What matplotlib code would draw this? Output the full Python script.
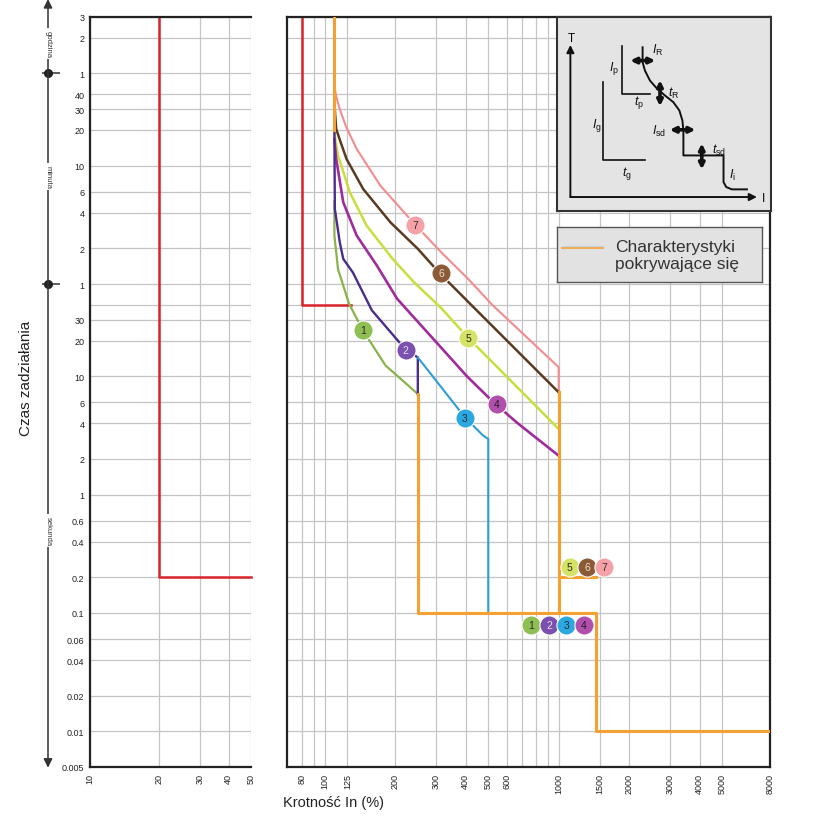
import matplotlib
matplotlib.use('Agg')
import matplotlib.pyplot as plt
import matplotlib.transforms as mtransforms

plt.rcParams['font.family'] = ['Liberation Sans', 'DejaVu Sans']
plt.rcParams['mathtext.fontset'] = 'custom'
plt.rcParams['mathtext.rm'] = 'Liberation Sans'
plt.rcParams['mathtext.it'] = 'Liberation Sans:italic'

W, H = 823, 837

# time axis, seconds
t_ticks = [0.005, 0.01, 0.02, 0.04, 0.06, 0.1, 0.2, 0.4, 0.6, 1, 2, 4, 6, 10, 20, 30, 40,
           60, 120, 240, 360, 600, 1200, 1800, 2400, 3600, 7200, 10800]
t_labels = ['0.005', '0.01', '0.02', '0.04', '0.06', '0.1', '0.2', '0.4', '0.6', '1', '2', '4', '6',
            '10', '20', '30', '', '1', '2', '4', '6', '10', '20', '30', '40', '1', '2', '3']
t_min, t_max = 0.005, 10800

left_xticks = [10, 20, 30, 40, 50]
right_xticks = [80, 90, 100, 125, 200, 300, 400, 500, 600, 700, 800, 900, 1000,
                1500, 2000, 3000, 4000, 5000, 8000]
right_xlabels = ['80', '', '100', '125', '200', '300', '400', '500', '600', '', '', '', '1000',
                 '1500', '2000', '3000', '4000', '5000', '8000']

# red curve (left and right panel)
red_left_I = [20, 20, 50]
red_left_t = [10800, 0.2, 0.2]
red_right_I = [80, 80, 130]
red_right_t = [10800, 40, 40]

# curves 1..7 (I in % In, t in s)
c7_I = [110, 112, 116, 123, 137, 173, 242, 315, 411, 520, 1000, 1000]
c7_t = [2800, 2300, 1800, 1300, 829, 406, 193, 111, 66, 40, 11.9, 7.3]
c6_I = [110, 112, 117, 124, 146, 191, 250, 310, 426, 1000]
c6_t = [2000, 1223, 944, 682, 381, 199, 119, 74, 39.4, 7.3]
c5_I = [110, 111, 114, 119, 128, 151, 195, 241, 315, 411, 1000]
c5_t = [1200, 1000, 728, 562, 357, 187, 98, 62, 37.5, 21, 3.58]
c4_I = [110, 112, 120, 137, 167, 204, 405, 527, 668, 1000]
c4_t = [1000, 682, 294, 154, 86, 45, 10, 6, 4, 2.13]
c2_I = [110, 110.5, 116, 120, 132, 159, 222, 250, 250]
c2_t = [1200, 258, 135, 98, 75, 36, 16.7, 14.4, 7.07]
c1_I = [110, 110, 114, 127, 145, 182, 250]
c1_t = [300, 154, 80, 41, 24.7, 12.3, 7.07]
c3_I = [250, 397, 476, 500, 500]
c3_t = [14.4, 4.5, 3.14, 2.95, 0.1]

# overlapping characteristics (orange)
orange_segments = [
    ([110, 110], [10800, 1200]),
    ([250, 250, 1450, 1450, 8000], [7.07, 0.1, 0.1, 0.01, 0.01]),
    ([1000, 1000], [7.3, 0.1]),
    ([1000, 1450], [0.2, 0.2]),
]

# number badges
badge_num = ['1', '2', '3', '4', '5', '6', '7']
badge_I = [146, 222, 397, 544, 410, 315, 243]
badge_t = [24.7, 16.7, 4.4, 5.8, 21, 74, 190]
row_a_num = ['5', '6', '7']
row_a_I = [1114, 1321, 1564]
row_a_t = [0.244, 0.244, 0.244]
row_b_num = ['1', '2', '3', '4']
row_b_I = [765, 908, 1079, 1277]
row_b_t = [0.079, 0.079, 0.079, 0.079]

line_col = {'1': '#8ab34c', '2': '#4a2d8c', '3': '#2c9ed6', '4': '#a02b9c',
            '5': '#c8de3c', '6': '#5a3a20', '7': '#f28c8e'}
badge_col = {'1': '#8fbf52', '2': '#7b50ae', '3': '#2aa8df', '4': '#b150ac',
             '5': '#d4e266', '6': '#8b5b37', '7': '#f4a2a8'}
badge_txt = {'1': '#2a2a2a', '2': '#e8dcf4', '3': '#1a2a3a', '4': '#2a1a2a',
             '5': '#2a2a2a', '6': '#f2dcc4', '7': '#3a2a2a'}
RED = '#d8242a'
ORANGE = '#f5a033'
GRID = '#c4c4c4'


def fig_rect(x0, y0, x1, y1):
    return [x0 / W, 1 - y1 / H, (x1 - x0) / W, (y1 - y0) / H]


fig = plt.figure(figsize=(W / 100, H / 100), dpi=100)


def setup_panel(ax, xlim, xticks, xlabels, ylabels):
    ax.set_xscale('log')
    ax.set_yscale('log')
    ax.set_xlim(*xlim)
    ax.set_ylim(t_min, t_max)
    ax.minorticks_off()
    ax.set_xticks(xticks)
    ax.set_xticklabels(xlabels, rotation=90, fontsize=6.5)
    ax.set_yticks(t_ticks)
    if ylabels:
        ax.set_yticklabels(t_labels, fontsize=6.5)
    else:
        ax.set_yticklabels([])
    ax.tick_params(length=0, pad=4, colors='#222')
    ax.grid(True, color=GRID, lw=0.9)
    ax.set_axisbelow(True)
    for s in ax.spines.values():
        s.set_color('#222')
        s.set_linewidth(1.6)


# left panel
axl = fig.add_axes(fig_rect(90, 18, 251, 768))
setup_panel(axl, (10, 50), left_xticks, [str(v) for v in left_xticks], True)
axl.spines['right'].set_visible(False)
axl.plot(red_left_I, red_left_t, color=RED, lw=1.8, clip_on=False)

# right panel
axr = fig.add_axes(fig_rect(287, 18, 770, 768))
setup_panel(axr, (69, 8000), right_xticks, right_xlabels, False)
axr.plot(red_right_I, red_right_t, color=RED, lw=1.8)

curves = [('7', c7_I, c7_t, 1.5), ('6', c6_I, c6_t, 1.8), ('5', c5_I, c5_t, 1.8),
          ('4', c4_I, c4_t, 1.9), ('1', c1_I, c1_t, 1.6), ('2', c2_I, c2_t, 1.7),
          ('3', c3_I, c3_t, 1.5)]
for key, xs, ys, lw in curves:
    axr.plot(xs, ys, color=line_col[key], lw=lw, solid_joinstyle='round')

for xs, ys in orange_segments:
    axr.plot(xs, ys, color=ORANGE, lw=2.2, solid_capstyle='projecting', zorder=3)


def badges(nums, xs, ys):
    for n, x, y in zip(nums, xs, ys):
        axr.scatter([x], [y], s=190, color=badge_col[n], edgecolors='white', linewidths=0.8, zorder=6)
        axr.text(x, y, n, fontsize=7.5, ha='center', va='center', color=badge_txt[n], zorder=7)


badges(badge_num, badge_I, badge_t)
badges(row_a_num, row_a_I, row_a_t)
badges(row_b_num, row_b_I, row_b_t)

# time-unit arrow on the left
ax_t = fig.add_axes(fig_rect(36, 18, 60, 768))
ax_t.set_xlim(36, 60)
ax_t.set_yscale('log')
ax_t.set_ylim(t_min, t_max)
ax_t.axis('off')
blend = mtransforms.blended_transform_factory(ax_t.transData, ax_t.transAxes)
ax_t.annotate('', xy=(48, 1.024), xycoords=blend, xytext=(48, -0.001), textcoords=blend,
              arrowprops=dict(arrowstyle='<|-|>', color='#333', lw=1.1, mutation_scale=13,
                              shrinkA=0, shrinkB=0), annotation_clip=False)
ax_t.hlines([3600, 60], 42, 60, color='#333', lw=1.1)
ax_t.plot([48, 48], [3600, 60], 'o', color='#222', ms=5.5, clip_on=False)
for txt, fy in [('godzina', 0.965), ('minuta', 0.787), ('sekunda', 0.315)]:
    ax_t.text(48, fy, txt, transform=blend, rotation=-90, ha='center', va='center',
              fontsize=5.5, color='#333', bbox=dict(fc='white', ec='none', pad=1.5))

fig.text(26 / W, 1 - 378 / H, 'Czas zadziałania', rotation=90, ha='center', va='center',
         fontsize=11, color='#222')
fig.text(283 / W, 1 - 803 / H, 'Krotność In (%)', ha='left', va='center',
         fontsize=10.5, color='#222')

# inset schematic (coordinates in inset pixel units)
ax_in = fig.add_axes(fig_rect(557, 18, 771, 212))
ax_in.set_xlim(22, 662)
ax_in.set_ylim(637, 54)
ax_in.set_xticks([])
ax_in.set_yticks([])
ax_in.set_facecolor('#e4e4e4')
for s in ax_in.spines.values():
    s.set_color('#333')
    s.set_linewidth(1.5)

arrow_kw = dict(arrowstyle='-|>', color='#111', lw=1.4, mutation_scale=11, shrinkA=0, shrinkB=0)
ax_in.annotate('', xy=(62, 138), xytext=(62, 595), arrowprops=arrow_kw)
ax_in.annotate('', xy=(620, 595), xytext=(62, 595), arrowprops=arrow_kw)
ax_in.text(66, 118, 'T', fontsize=8.5, ha='center', va='center')
ax_in.text(640, 598, 'I', fontsize=8.5, ha='center', va='center')

ip_x = [215, 215, 300]
ip_y = [140, 285, 285]
ig_x = [160, 160, 285]
ig_y = [250, 485, 485]
main_x = [278, 278, 285, 300, 320, 345, 370, 388, 397, 400, 400, 520, 520, 528, 545, 590]
main_y = [145, 190, 215, 245, 268, 290, 310, 335, 365, 395, 470, 470, 550, 565, 572, 572]
ax_in.plot(ip_x, ip_y, color='#111', lw=1.2)
ax_in.plot(ig_x, ig_y, color='#111', lw=1.2)
ax_in.plot(main_x, main_y, color='#111', lw=1.4)

dbl_kw = dict(arrowstyle='<|-|>', color='#111', lw=2.6, mutation_scale=8, shrinkA=0, shrinkB=0)
for (x0, y0, x1, y1) in [(241, 185, 316, 185), (330, 244, 330, 322),
                         (359, 393, 436, 393), (455, 434, 455, 512)]:
    ax_in.annotate('', xy=(x1, y1), xytext=(x0, y0), arrowprops=dbl_kw)

in_labels = [(r'$I_{\rm p}$', 192, 205), (r'$t_{\rm p}$', 268, 308), (r'$I_{\rm g}$', 142, 378),
             (r'$t_{\rm g}$', 232, 522), (r'$I_{\rm R}$', 322, 152), (r'$t_{\rm R}$', 372, 280),
             (r'$I_{\rm sd}$', 328, 395), (r'$t_{\rm sd}$', 508, 452), (r'$I_{\rm i}$', 548, 528)]
for txt, x, y in in_labels:
    ax_in.text(x, y, txt, fontsize=9, ha='center', va='center', color='#111')

# legend box
ax_lg = fig.add_axes(fig_rect(557, 228, 762, 283))
ax_lg.set_xlim(0, 205)
ax_lg.set_ylim(55, 0)
ax_lg.set_xticks([])
ax_lg.set_yticks([])
ax_lg.set_facecolor('#e2e2e2')
for s in ax_lg.spines.values():
    s.set_color('#555')
    s.set_linewidth(1.0)
ax_lg.plot([5, 46], [19, 19], color='#c9d6e6', lw=1.0)
ax_lg.plot([5, 46], [20.5, 20.5], color=ORANGE, lw=1.2)
ax_lg.text(58, 28, 'Charakterystyki\npokrywające się', fontsize=12.5, ha='left', va='center',
           color='#333', linespacing=1.1)

fig.savefig('out.png', dpi=100, facecolor='white')
